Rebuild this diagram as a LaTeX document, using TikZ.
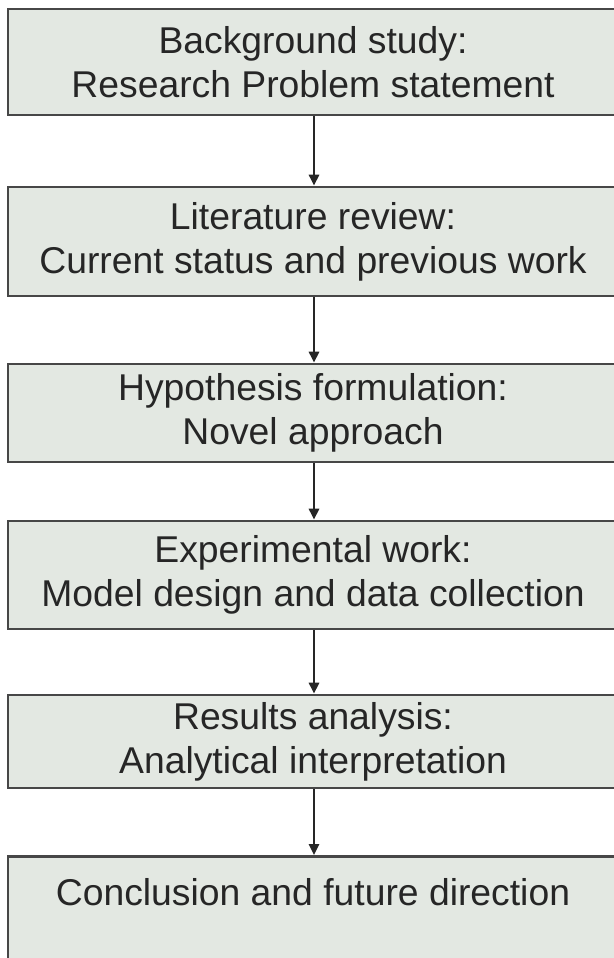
\documentclass[tikz,border=0pt]{standalone}
\usepackage{fontspec}
\setmainfont{Liberation Sans}
\usetikzlibrary{arrows.meta}
\definecolor{boxfill}{HTML}{E3E8E2}
\definecolor{boxline}{HTML}{474747}
\definecolor{inkgray}{HTML}{262626}
\tikzset{
  stage/.style={draw=boxline, line width=2.6pt, fill=boxfill, rectangle,
    minimum width=610pt, inner sep=0pt, align=center, text=inkgray,
    font=\fontsize{37.3}{44}\selectfont},
  flow/.style={draw=inkgray, line width=2.6pt,
    -{Triangle[length=11pt,width=10pt]}}
}
\begin{document}
\begin{tikzpicture}[x=1pt,y=1pt]
  \useasboundingbox[fill=white] (0,0) rectangle (613,-958);
  \coordinate (axis) at (314,0);
  \node[stage, minimum height=106pt] (b1) at (313,-62)
    {Background study:\\Research Problem statement};
  \node[stage, minimum height=109pt] (b2) at (313,-241.5)
    {Literature review:\\Current status and previous work};
  \node[stage, minimum height=98pt] (b3) at (313,-413)
    {Hypothesis formulation:\\Novel approach};
  \node[stage, minimum height=108pt] (b4) at (313,-575)
    {Experimental work:\\Model design and data collection};
  \node[stage, minimum height=93pt] (b5) at (313,-741.5)
    {Results analysis:\\Analytical interpretation};
  \node[stage, anchor=north, inner ysep=22pt, text depth=90pt] (b6) at (313,-855)
    {Conclusion and future direction};
  \draw[flow] (b1.south -| axis) -- (b2.north -| axis);
  \draw[flow] (b2.south -| axis) -- (b3.north -| axis);
  \draw[flow] (b3.south -| axis) -- (b4.north -| axis);
  \draw[flow] (b4.south -| axis) -- (b5.north -| axis);
  \draw[flow] (b5.south -| axis) -- (b6.north -| axis);
\end{tikzpicture}
\end{document}
